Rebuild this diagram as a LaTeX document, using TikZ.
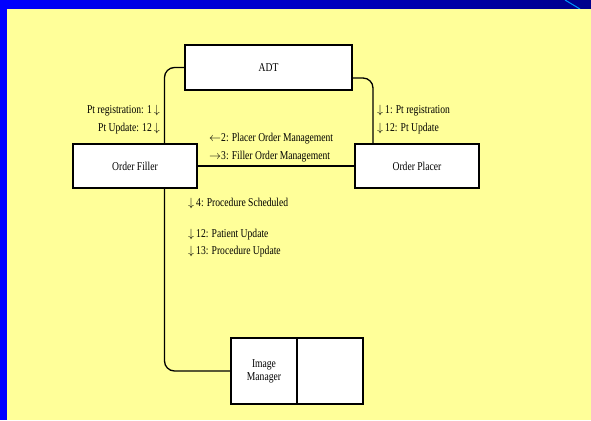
\documentclass[tikz,border=0pt]{standalone}
\usepackage{fontspec}
\setmainfont[FakeStretch=0.8]{Liberation Serif}
\usetikzlibrary{positioning}
\definecolor{slideyellow}{RGB}{255,255,153}
\definecolor{slideblue}{RGB}{0,0,255}
\definecolor{slidenavy}{RGB}{0,0,140}

\begin{document}
\begin{tikzpicture}[x=1pt, y=-1pt,
  box/.style={draw, line width=2pt, fill=white, minimum width=124pt, minimum height=44pt, inner sep=0pt, font=\fontsize{12}{13}\selectfont},
  link/.style={line width=1.3pt, rounded corners=10pt},
  lbl/.style={inner sep=0pt, font=\fontsize{12}{13}\selectfont}]
\useasboundingbox (0,0) rectangle (591,420);
\fill[slideblue] (0,0) rectangle (591,420);
\shade[left color=slideblue, right color=slidenavy] (0,0) rectangle (591,9);
\draw[blue!40!cyan, line width=1pt] (565,0) -- (580,9);
\fill[slideyellow] (7,9) rectangle (591,420);

\node[box, minimum width=167pt] (adt) at (268.5,67.5) {ADT};
\node[box] (filler) at (135,166) {Order Filler};
\node[box] (placer) at (417,166) {Order Placer};
\node[box, minimum width=66pt, minimum height=66pt, align=center] (im) at (264,371) {Image\\Manager};
\node[box, minimum width=66pt, minimum height=66pt, right=-2pt of im] (imstore) {};

\draw[link] ([xshift=29.5pt]filler.north) |- (adt.west);
\draw[link] ([yshift=-10.5pt]adt.east) -| ([xshift=-44pt]placer.north);
\draw[link] (filler.east) -- (placer.west);
\draw[link] ([xshift=29.5pt]filler.south) |- (im.west);

\node[lbl, anchor=east] (ptregl) at (160,111) {Pt registration: 1\,$\downarrow$};
\node[lbl, anchor=east] (ptupdl) at (160,129) {Pt Update: 12\,$\downarrow$};
\node[lbl, anchor=west] (ptregr) at (377,111) {$\downarrow$\,1: Pt registration};
\node[lbl, anchor=west] (ptupdr) at (377,129) {$\downarrow$\,12: Pt Update};
\node[lbl, anchor=west] (placerom) at (209,139) {$\leftarrow$2: Placer Order Management};
\node[lbl, anchor=west] (fillerom) at (209,157) {$\rightarrow$3: Filler Order Management};
\node[lbl, anchor=west] (procsched) at (188,203) {$\downarrow$\,4: Procedure Scheduled};
\node[lbl, anchor=west] (patupd) at (188,235) {$\downarrow$\,12: Patient Update};
\node[lbl, anchor=west] (procupd) at (188,252) {$\downarrow$\,13: Procedure Update};
\end{tikzpicture}
\end{document}
